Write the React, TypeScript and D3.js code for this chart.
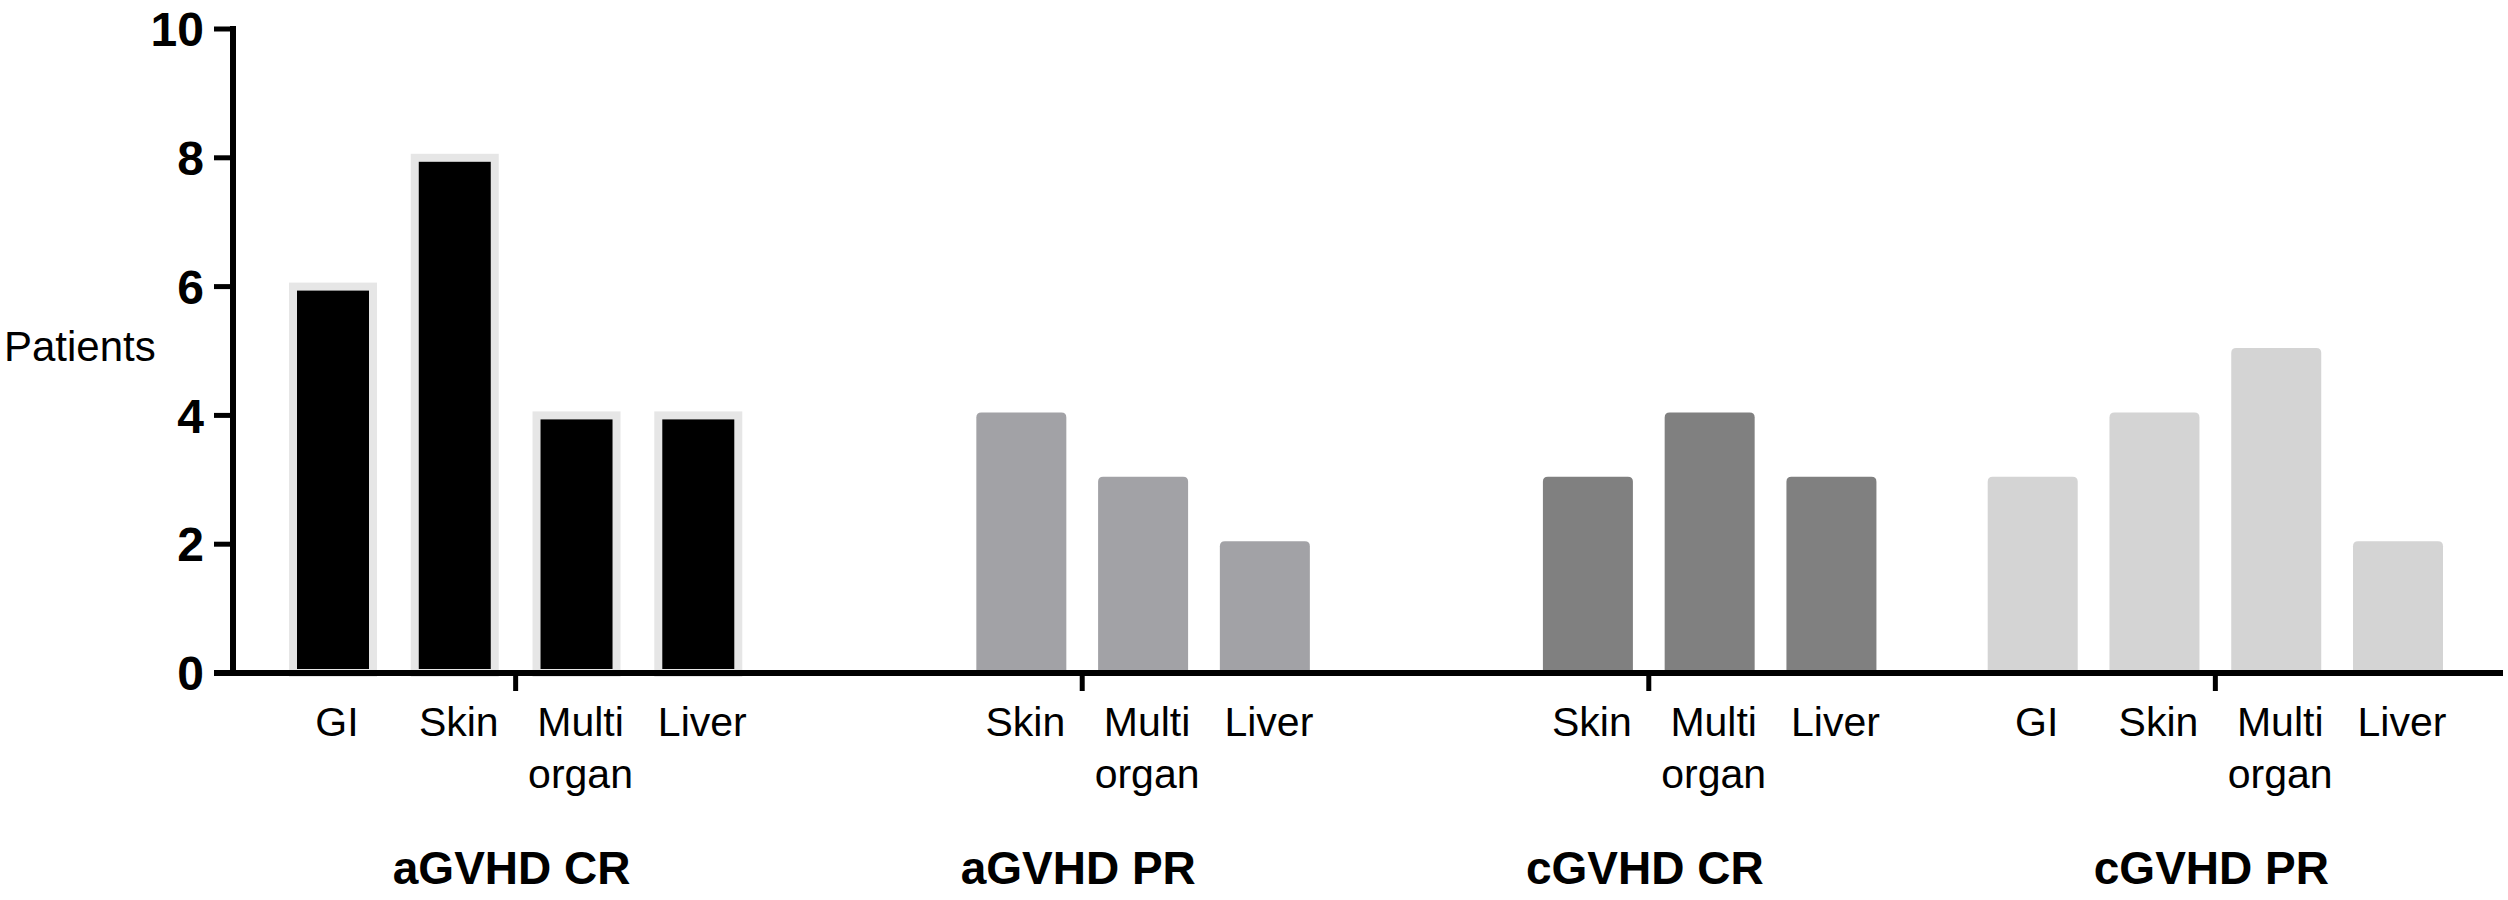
import React from "react";
import * as d3 from "d3";

const groups = ["aGVHD CR", "aGVHD PR", "cGVHD CR", "cGVHD PR"];
const organs = ["GI", "Skin", "Multi organ", "Liver"];
const aGVHD_CR = [6, 8, 4, 4];
const aGVHD_PR = [null, 4, 3, 2];
const cGVHD_CR = [null, 3, 4, 3];
const cGVHD_PR = [3, 4, 5, 2];
const seriesValues = [aGVHD_CR, aGVHD_PR, cGVHD_CR, cGVHD_PR];
const groupColors = ["#000000", "#a2a2a6", "#808080", "#d4d4d4"];
const yTicks = [0, 2, 4, 6, 8, 10];

const W = 2508;
const H = 900;
const FONT = "'Liberation Sans', Arial, Helvetica, sans-serif";

function roundedTopBar(x0: number, x1: number, top: number, bottom: number, r: number) {
  const p = d3.path();
  p.moveTo(x0, bottom);
  p.lineTo(x0, top + r);
  p.quadraticCurveTo(x0, top, x0 + r, top);
  p.lineTo(x1 - r, top);
  p.quadraticCurveTo(x1, top, x1, top + r);
  p.lineTo(x1, bottom);
  p.closePath();
  return p.toString();
}

export default function App() {
  const groupUnits = 4.653;
  const x = d3
    .scaleLinear()
    .domain([0, 3 * groupUnits + 3])
    .range([333, 2398]);
  const y = d3.scaleLinear().domain([0, 10]).range([673, 29]);
  const axisX = 233;

  const bars: any[] = [];
  const labels: any[] = [];
  seriesValues.forEach((vals, g) => {
    vals.forEach((v, s) => {
      if (v == null) return;
      const cx = x(g * groupUnits + s);
      const key = `${g}-${s}`;
      if (g === 0) {
        const bw = 80;
        bars.push(
          <rect
            key={key}
            x={cx - bw / 2}
            y={y(v)}
            width={bw}
            height={y(0) - y(v)}
            fill="#000"
            stroke="#e6e6e6"
            strokeWidth={8}
          />
        );
      } else {
        const bw = 90;
        bars.push(
          <path
            key={key}
            d={roundedTopBar(cx - bw / 2, cx + bw / 2, y(v) - 3, y(0), 5)}
            fill={groupColors[g]}
          />
        );
      }
      const lines = organs[s].split(" ");
      labels.push(
        <text
          key={"l" + key}
          x={cx + 4}
          y={736}
          textAnchor="middle"
          fontSize={41}
          fontFamily={FONT}
          fill="#000"
        >
          {lines.map((ln, i) => (
            <tspan key={i} x={cx + 4} dy={i === 0 ? 0 : 52}>
              {ln}
            </tspan>
          ))}
        </text>
      );
    });
  });

  return (
    <svg
      width={W}
      height={H}
      style={{ position: "absolute", left: 0, top: 0, background: "#fff" }}
    >
      <rect x={0} y={0} width={W} height={H} fill="#fff" />
      {bars}
      <line x1={axisX} x2={axisX} y1={26} y2={676} stroke="#000" strokeWidth={6} />
      {yTicks.map((t) => (
        <g key={t}>
          <line x1={214} x2={axisX} y1={y(t)} y2={y(t)} stroke="#000" strokeWidth={5} />
          <text
            x={204}
            y={y(t)}
            dy="0.36em"
            textAnchor="end"
            fontSize={48}
            fontWeight="bold"
            fontFamily={FONT}
            fill="#000"
          >
            {t}
          </text>
        </g>
      ))}
      <line x1={214} x2={2503} y1={y(0)} y2={y(0)} stroke="#000" strokeWidth={6} />
      {groups.map((gname, g) => {
        const cx = x(g * groupUnits + 1.5);
        return (
          <g key={gname}>
            <line x1={cx} x2={cx} y1={y(0)} y2={y(0) + 18} stroke="#000" strokeWidth={5} />
            <text
              x={cx - 4}
              y={884}
              textAnchor="middle"
              fontSize={46}
              fontWeight="bold"
              fontFamily={FONT}
              fill="#000"
            >
              {gname}
            </text>
          </g>
        );
      })}
      {labels}
      <text x={4} y={361} fontSize={42} fontFamily={FONT} fill="#000">
        Patients
      </text>
    </svg>
  );
}
